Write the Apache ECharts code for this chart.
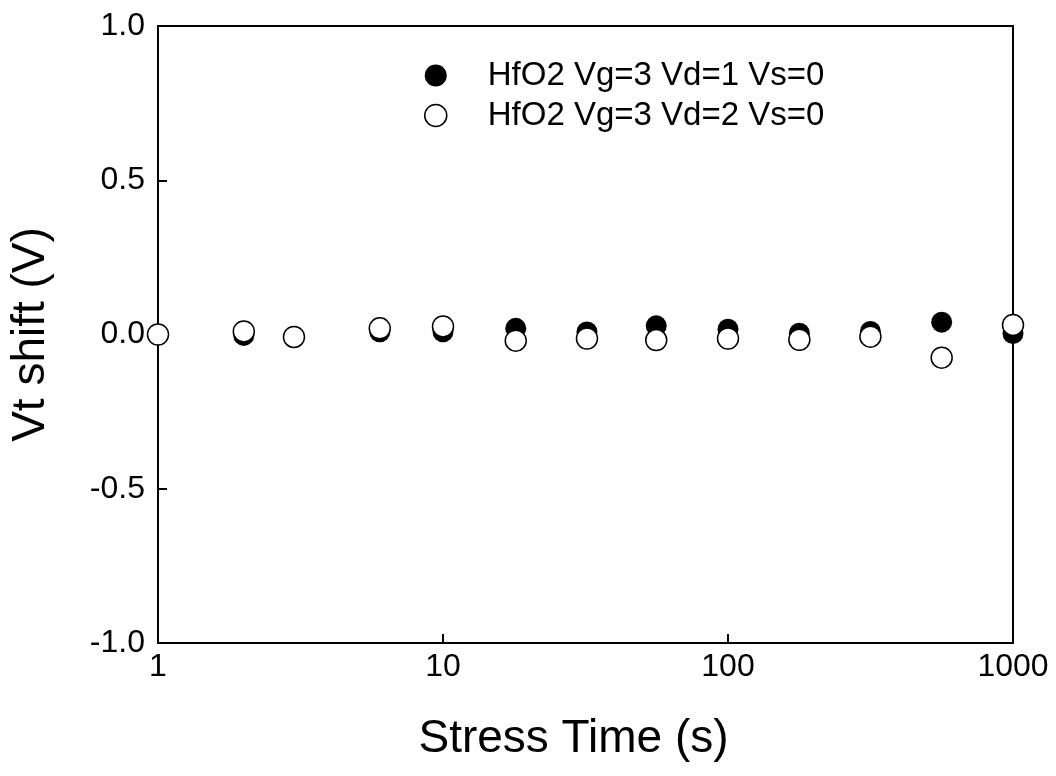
<!DOCTYPE html>
<html>
<head>
<meta charset="utf-8">
<script src="https://cdn.jsdelivr.net/npm/echarts@6/dist/echarts.min.js"></script>
<style>
html,body{margin:0;padding:0;background:#fff;}
#chart{width:1056px;height:776px;}
</style>
</head>
<body>
<div id="chart"></div>
<script>
var times = [1, 2, 3, 6, 10, 18, 32, 56, 100, 178, 316, 562, 1000];
var vd1Values = [0, -0.003, -0.008, 0.009, 0.009, 0.02, 0.008, 0.028, 0.017, 0.004, 0.01, 0.04, 0.003];
var vd2Values = [0, 0.01, -0.008, 0.02, 0.026, -0.02, -0.013, -0.018, -0.013, -0.017, -0.007, -0.075, 0.031];
var seriesNames = ['HfO2 Vg=3 Vd=1 Vs=0', 'HfO2 Vg=3 Vd=2 Vs=0'];
var yTicks = [-1.0, -0.5, 0.0, 0.5, 1.0];

function pairs(xs, ys) { return xs.map(function (x, i) { return [x, ys[i]]; }); }

var FONT = '"Liberation Sans", Arial, sans-serif';
var chart = echarts.init(document.getElementById('chart'), null, { renderer: 'canvas' });
chart.setOption({
  animation: false,
  backgroundColor: '#ffffff',
  grid: { left: 156, right: 43, top: 26, bottom: 133, show: true, borderColor: '#000', borderWidth: 2, backgroundColor: 'transparent' },
  legend: {
    orient: 'vertical', left: 419, top: 54, itemGap: 7,
    itemWidth: 22, itemHeight: 22,
    textStyle: { fontFamily: FONT, fontSize: 33, color: '#000', padding: [0, 0, 0, 36] },
    data: [
      { name: seriesNames[0], icon: 'circle', itemStyle: { color: '#000', borderWidth: 0 } },
      { name: seriesNames[1], icon: 'circle', itemStyle: { color: '#fff', borderColor: '#000', borderWidth: 1.5 } }
    ]
  },
  xAxis: {
    type: 'log', logBase: 10, min: 1, max: 1000,
    name: 'Stress Time (s)', nameLocation: 'middle', nameGap: 73,
    nameTextStyle: { fontFamily: FONT, fontSize: 46, color: '#000', padding: [0, 24, 0, 0] },
    axisLine: { show: true, onZero: false, lineStyle: { color: '#000', width: 2 } },
    axisTick: { show: true, inside: true, length: 9, lineStyle: { color: '#000', width: 2 } },
    minorTick: { show: false },
    splitLine: { show: false },
    axisLabel: { fontFamily: FONT, fontSize: 32, color: '#000', margin: 8,
      formatter: function (v) { return String(Math.round(v)); } }
  },
  yAxis: {
    type: 'value', min: yTicks[0], max: yTicks[yTicks.length - 1], interval: 0.5,
    name: 'Vt shift (V)', nameLocation: 'middle', nameGap: 104, nameRotate: 90,
    nameTextStyle: { fontFamily: FONT, fontSize: 46, color: '#000' },
    axisLine: { show: true, onZero: false, lineStyle: { color: '#000', width: 2 } },
    axisTick: { show: true, inside: true, length: 9, lineStyle: { color: '#000', width: 2 } },
    splitLine: { show: false },
    axisLabel: { fontFamily: FONT, fontSize: 32, color: '#000', margin: 13,
      formatter: function (v) { return v.toFixed(1); } }
  },
  series: [
    { name: seriesNames[0], type: 'scatter', data: pairs(times, vd1Values), symbol: 'circle', symbolSize: 21, clip: false,
      itemStyle: { color: '#000', borderWidth: 0, opacity: 1 } },
    { name: seriesNames[1], type: 'scatter', data: pairs(times, vd2Values), symbol: 'circle', symbolSize: 21, clip: false,
      itemStyle: { color: '#fff', borderColor: '#000', borderWidth: 1.5, opacity: 1 } }
  ]
});
</script>
</body>
</html>
